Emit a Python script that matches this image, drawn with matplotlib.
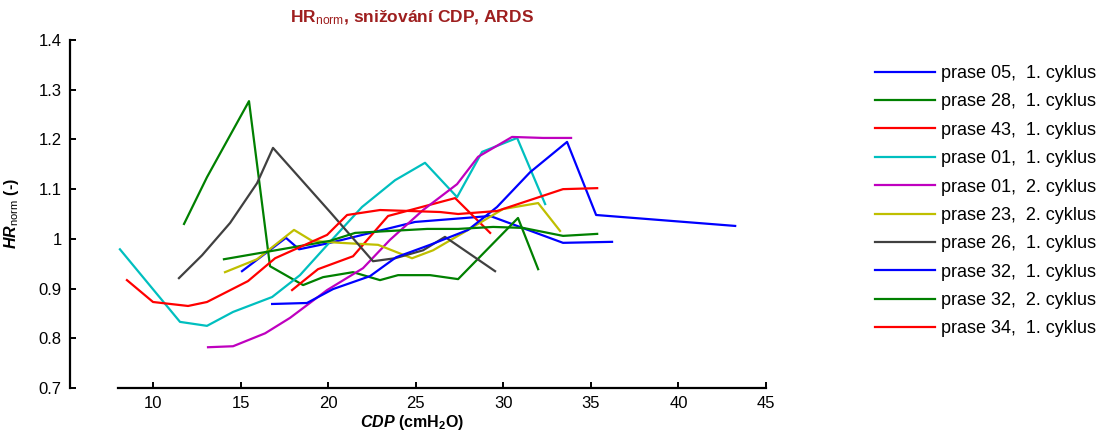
import numpy as np
import matplotlib
matplotlib.use('Agg')
import matplotlib.pyplot as plt
from matplotlib.ticker import FuncFormatter

plt.rcParams['font.family'] = ['Liberation Sans', 'DejaVu Sans']
plt.rcParams['mathtext.fontset'] = 'custom'
plt.rcParams['mathtext.rm'] = 'Liberation Sans'
plt.rcParams['mathtext.it'] = 'Liberation Sans:italic'
plt.rcParams['mathtext.bf'] = 'Liberation Sans:bold'
plt.rcParams['mathtext.bfit'] = 'Liberation Sans:italic:bold'

# CDP (cmH2O) and normalised HR for each animal / cycle
cdp_05_1 = [15.08, 17.59, 18.34, 20.11, 24.96, 29.25, 33.41, 36.21]
hr_05_1 = [0.935, 1.002, 0.979, 0.992, 1.034, 1.046, 0.992, 0.994]

cdp_28_1 = [11.77, 13.08, 15.48, 16.68, 18.57, 19.71, 21.42, 22.96, 23.99, 25.82, 27.42, 30.84, 31.99]
hr_28_1 = [1.030, 1.124, 1.277, 0.945, 0.907, 0.923, 0.933, 0.917, 0.927, 0.927, 0.919, 1.042, 0.939]

cdp_43_1 = [17.94, 19.42, 21.42, 23.42, 27.25, 29.25]
hr_43_1 = [0.897, 0.939, 0.965, 1.046, 1.082, 1.012]

cdp_01_1 = [8.11, 11.54, 13.08, 14.57, 16.80, 18.39, 20.11, 21.93, 23.82, 25.53, 27.36, 28.79, 30.79, 32.39]
hr_01_1 = [0.979, 0.833, 0.825, 0.853, 0.883, 0.927, 0.994, 1.064, 1.118, 1.153, 1.084, 1.175, 1.203, 1.070]

cdp_01_2 = [13.14, 14.57, 16.40, 17.82, 19.94, 21.99, 23.53, 25.42, 27.36, 28.56, 30.50, 32.27, 33.87]
hr_01_2 = [0.782, 0.784, 0.810, 0.841, 0.897, 0.941, 0.998, 1.058, 1.110, 1.165, 1.205, 1.203, 1.203]

cdp_23_2 = [14.11, 15.94, 18.05, 19.08, 20.68, 22.85, 24.79, 25.99, 27.70, 29.99, 31.99, 33.24]
hr_23_2 = [0.933, 0.959, 1.018, 0.996, 0.992, 0.988, 0.961, 0.977, 1.012, 1.060, 1.072, 1.016]

cdp_26_1 = [11.48, 12.80, 14.40, 15.94, 16.85, 20.11, 22.56, 23.82, 25.42, 26.67, 29.53]
hr_26_1 = [0.921, 0.967, 1.032, 1.112, 1.183, 1.054, 0.955, 0.961, 0.977, 1.004, 0.935]

cdp_32_1 = [16.80, 18.79, 20.28, 22.39, 23.88, 25.82, 27.99, 29.64, 31.53, 33.64, 35.30, 43.24]
hr_32_1 = [0.869, 0.871, 0.899, 0.925, 0.963, 0.988, 1.018, 1.064, 1.134, 1.195, 1.048, 1.026]

cdp_32_2 = [14.05, 20.11, 21.54, 25.65, 27.42, 29.42, 31.13, 33.41, 35.36]
hr_32_2 = [0.959, 0.996, 1.012, 1.020, 1.020, 1.024, 1.022, 1.006, 1.010]

cdp_34_1 = [8.51, 10.0, 12.0, 13.08, 15.42, 16.97, 19.94, 21.08, 22.96, 26.39, 27.42, 29.64, 31.53, 33.41, 35.36]
hr_34_1 = [0.917, 0.873, 0.865, 0.873, 0.915, 0.961, 1.008, 1.048, 1.058, 1.054, 1.050, 1.056, 1.078, 1.100, 1.102]

labels = ['prase 05,  1. cyklus', 'prase 28,  1. cyklus', 'prase 43,  1. cyklus',
          'prase 01,  1. cyklus', 'prase 01,  2. cyklus', 'prase 23,  2. cyklus',
          'prase 26,  1. cyklus', 'prase 32,  1. cyklus', 'prase 32,  2. cyklus',
          'prase 34,  1. cyklus']
xs = [cdp_05_1, cdp_28_1, cdp_43_1, cdp_01_1, cdp_01_2, cdp_23_2, cdp_26_1, cdp_32_1, cdp_32_2, cdp_34_1]
ys = [hr_05_1, hr_28_1, hr_43_1, hr_01_1, hr_01_2, hr_23_2, hr_26_1, hr_32_1, hr_32_2, hr_34_1]
colors = ['#0000ff', '#008000', '#ff0000', '#00bfbf', '#bf00bf', '#bfbf00', '#404040',
          '#0000ff', '#008000', '#ff0000']

fig = plt.figure(figsize=(11.01, 4.34), dpi=100)
ax = fig.add_axes([118/1101, 46/434, 648/1101, 348/434])

for x, y, c, lab in zip(xs, ys, colors, labels):
    ax.plot(x, y, color=c, lw=1.6, label=lab)

ax.set_xlim(8, 45)
ax.set_ylim(0.7, 1.4)
ax.set_xticks(np.arange(10, 46, 5))
ax.set_yticks(np.arange(0.7, 1.41, 0.1))
ax.yaxis.set_major_formatter(FuncFormatter(lambda v, p: '%g' % round(v, 1)))

ax.spines['top'].set_visible(False)
ax.spines['right'].set_visible(False)
ax.spines['left'].set_position(('outward', 34.6))
ax.spines['left'].set_linewidth(1.6)
ax.spines['bottom'].set_linewidth(1.6)
ax.tick_params(direction='in', length=4, width=1.4, labelsize=12, pad=6, colors='black')

ax.set_xlabel(r'$\mathbfit{CDP}$ (cmH$_\mathbf{2}$O)', fontsize=11.5, fontweight='bold')
ax.xaxis.label.set_va('center')
ax.xaxis.set_label_coords((412 - 118) / 648, -0.10)
ax.set_ylabel(r'$\mathbfit{HR}_\mathrm{norm}$ (-)', fontsize=11.5, fontweight='bold')
ax.yaxis.set_label_coords((21 - 118) / 648, 0.5)

fig.text(412/1101, 1 - 18/434, r'$\mathbf{HR}_\mathrm{norm}$, snižování CDP, ARDS',
         ha='center', va='center', fontsize=12.5, fontweight='bold', color='#9e1f1f')

fig.legend(loc='upper left', bbox_to_anchor=(875/1101, 1 - 65/434), frameon=False,
           fontsize=13, handlelength=3.32, handletextpad=0.33, labelspacing=0.63,
           borderpad=0, borderaxespad=0)

fig.savefig('out.png', dpi=100)
